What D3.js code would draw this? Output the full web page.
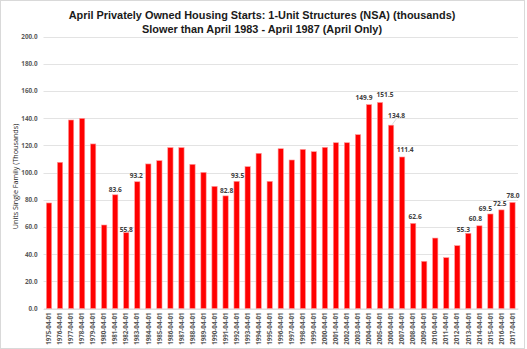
<!DOCTYPE html>
<html>
<head>
<meta charset="utf-8">
<script src="https://cdn.jsdelivr.net/npm/d3@7"></script>
<style>
  html, body { margin: 0; padding: 0; background: #fff; }
  svg { display: block; }
</style>
</head>
<body>
<svg id="chart" width="527" height="349"></svg>
<script>
// April housing starts, 1-unit structures (NSA, thousands)
const years = d3.range(1975, 2018);
const categories = years.map(y => y + "-04-01");
const starts = [
  77.6, 107.5, 138.6, 139.8, 121.0, 61.4, 83.6, 55.8, 93.2, 106.3,
  108.7, 118.3, 118.3, 106.0, 100.1, 89.8, 82.8, 93.5, 104.3, 114.1,
  93.5, 117.5, 109.2, 117.0, 115.3, 118.5, 121.9, 121.9, 127.8, 149.9,
  151.5, 134.8, 111.4, 62.6, 34.7, 51.8, 37.4, 46.2, 55.3, 60.8,
  69.5, 72.5, 78.0
];
const yTicks = d3.range(0, 201, 20);
const labelled = ["1981-04-01", "1982-04-01", "1983-04-01", "1991-04-01", "1992-04-01",
  "2004-04-01", "2005-04-01", "2006-04-01", "2007-04-01", "2008-04-01",
  "2013-04-01", "2014-04-01", "2015-04-01", "2016-04-01", "2017-04-01"];
const titleLines = [
  "April  Privately Owned Housing Starts: 1-Unit Structures (NSA) (thousands)",
  "Slower than April 1983 - April 1987 (April Only)"
];

// nudges for value labels so they don't collide: [dx, dy above bar top]
const labelNudge = {
  "1981-04-01": [0, -5], "1982-04-01": [0, -3], "1983-04-01": [-1, -6],
  "1991-04-01": [1, -5], "1992-04-01": [1, -6],
  "2004-04-01": [-5, -7], "2005-04-01": [5, -8], "2006-04-01": [5.5, -9],
  "2007-04-01": [3, -7], "2008-04-01": [2, -7],
  "2013-04-01": [-5, -4], "2014-04-01": [-4, -7], "2015-04-01": [-5, -5.5],
  "2016-04-01": [-1.5, -6], "2017-04-01": [0.5, -6.5]
};

const svg = d3.select("#chart");
const W = 527, H = 349;
const m = { left: 43.5, right: 9, top: 36.5, bottom: 40.5 };

// chart frame
svg.append("rect")
  .attr("x", 0.5).attr("y", 0.5).attr("width", W - 3).attr("height", H - 1)
  .attr("fill", "#fff").attr("stroke", "#d9d9d9").attr("stroke-width", 1);

const x = d3.scaleBand().domain(categories)
  .range([m.left, W - m.right]).paddingInner(0.52).paddingOuter(0.26);
const y = d3.scaleLinear().domain([0, 200]).range([H - m.bottom, m.top]);

// horizontal gridlines
svg.append("g").selectAll("line").data(yTicks).join("line")
  .attr("x1", m.left).attr("x2", W - m.right)
  .attr("y1", d => Math.round(y(d)) + 0.5).attr("y2", d => Math.round(y(d)) + 0.5)
  .attr("stroke", "#e3e3e3").attr("stroke-width", 1);

// y axis labels
const yAxis = d3.axisLeft(y).tickValues(yTicks).tickFormat(d3.format(".1f")).tickSize(0).tickPadding(6);
const gy = svg.append("g").attr("transform", `translate(${m.left},0)`).call(yAxis);
gy.select(".domain").remove();
gy.selectAll("text")
  .attr("font-family", "'Open Sans', 'Liberation Sans', sans-serif")
  .attr("font-size", 6.3).attr("font-weight", "bold").attr("fill", "#595959");

// x axis labels (rotated)
const xAxis = d3.axisBottom(x).tickSize(0).tickPadding(0);
const gx = svg.append("g").attr("transform", `translate(0,${H - m.bottom})`).call(xAxis);
gx.select(".domain").attr("stroke", "#d9d9d9");
gx.selectAll("text")
  .attr("font-family", "'Open Sans', 'Liberation Sans', sans-serif")
  .attr("font-size", 6.2).attr("font-weight", "bold").attr("fill", "#595959")
  .attr("text-anchor", "end")
  .attr("transform", "rotate(-90)")
  .attr("x", -4).attr("y", 0).attr("dy", "0.35em");

// bars
const rows = categories.map((c, i) => ({ c, v: starts[i] }));
svg.append("g").selectAll("rect").data(rows).join("rect")
  .attr("x", d => x(d.c)).attr("width", x.bandwidth())
  .attr("y", d => y(d.v)).attr("height", d => y(0) - y(d.v))
  .attr("fill", "#ff0000").attr("stroke", "#ff9a9a").attr("stroke-width", 0.6);

// value labels
const lab = rows.filter(d => labelled.includes(d.c));
const lg = svg.append("g");
lab.forEach(d => {
  const [dx, dy] = labelNudge[d.c];
  const cx = x(d.c) + x.bandwidth() / 2;
  if (d.c === "2006-04-01") {
    lg.append("line")
      .attr("x1", cx + 1).attr("y1", y(d.v) - 0.5)
      .attr("x2", cx + 5).attr("y2", y(d.v) + dy + 3)
      .attr("stroke", "#bfbfbf").attr("stroke-width", 0.6);
  }
  lg.append("text")
    .attr("x", cx + dx).attr("y", y(d.v) + dy)
    .attr("dy", "0.35em").attr("text-anchor", "middle")
    .attr("font-family", "'Open Sans', 'Liberation Sans', sans-serif")
    .attr("font-size", 6.6).attr("font-weight", "bold").attr("fill", "#404040")
    .text(d3.format(".1f")(d.v));
});

// y axis title
svg.append("text")
  .attr("transform", `translate(15,${(y(0) + y(200)) / 2 + 4}) rotate(-90)`)
  .attr("text-anchor", "middle").attr("dy", "0.35em")
  .attr("font-family", "'Open Sans', 'Liberation Sans', sans-serif")
  .attr("font-size", 7.2).attr("fill", "#262626")
  .text("Units Single Family (Thousands)");

// title
svg.append("g").selectAll("text").data(titleLines).join("text")
  .attr("x", 262).attr("y", (d, i) => 15 + i * 14).attr("dy", "0.35em")
  .attr("text-anchor", "middle")
  .attr("font-family", "'Liberation Sans', Arial, sans-serif")
  .attr("font-size", 10.9).attr("font-weight", "bold").attr("fill", "#1a1a1a")
  .text(d => d);
</script>
</body>
</html>
